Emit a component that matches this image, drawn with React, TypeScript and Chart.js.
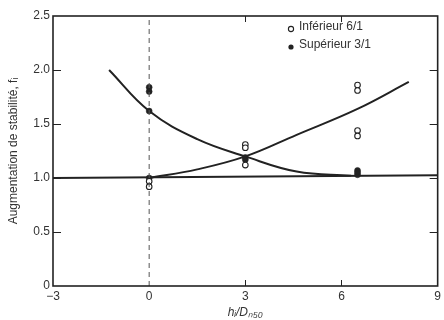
import React, { useEffect, useRef } from "react";
import { Chart, registerables } from "chart.js";

Chart.register(...registerables);

// Data
const xTicks = [-3, 0, 3, 6, 9];
const yTicks = [0, 0.5, 1.0, 1.5, 2.0, 2.5];

const inferieurX = [0, 0, 3, 3, 3, 6.5, 6.5, 6.5, 6.5];
const inferieurY = [0.97, 0.92, 1.31, 1.28, 1.12, 1.86, 1.81, 1.44, 1.39];

const superieurX = [0, 0, 0, 0, 3, 3, 6.5, 6.5, 6.5];
const superieurY = [1.84, 1.8, 1.62, 1.0, 1.19, 1.17, 1.07, 1.05, 1.03];

const baseX = [-3, 9];
const baseY = [1.0, 1.025];

const decX = [-1.25, 0, 1.5, 3, 4.6, 6.3];
const decY = [2.0, 1.62, 1.36, 1.2, 1.06, 1.022];

const incX = [0, 1.5, 3, 4.6, 6.5, 8.1];
const incY = [1.0, 1.08, 1.2, 1.4, 1.64, 1.89];

const refLineX = [0, 0];
const refLineY = [0, 2.5];

const labels = ["Inférieur 6/1", "Supérieur 3/1"];

const zip = (xs: number[], ys: number[]) => xs.map((x, i) => ({ x, y: ys[i] }));

const FONT = "'Liberation Sans', Arial, sans-serif";
const INK = "#222";

const innerTicks = {
  id: "innerTicks",
  afterDraw(chart: any) {
    const { ctx, chartArea: a, scales } = chart;
    const x = scales.x, y = scales.y;
    ctx.save();
    ctx.strokeStyle = INK;
    ctx.lineWidth = 1;
    yTicks.slice(1, -1).forEach((v) => {
      const py = Math.round(y.getPixelForValue(v)) + 0.5;
      ctx.beginPath();
      ctx.moveTo(a.left, py);
      ctx.lineTo(a.left + 8, py);
      ctx.moveTo(a.right, py);
      ctx.lineTo(a.right - 8, py);
      ctx.stroke();
    });
    xTicks.slice(1, -1).forEach((v) => {
      if (v === 0) return;
      const px = Math.round(x.getPixelForValue(v)) + 0.5;
      ctx.beginPath();
      ctx.moveTo(px, a.bottom);
      ctx.lineTo(px, a.bottom - 6);
      ctx.moveTo(px, a.top);
      ctx.lineTo(px, a.top + 6);
      ctx.stroke();
    });
    // frame
    ctx.lineWidth = 1.6;
    ctx.strokeRect(a.left, a.top, a.right - a.left, a.bottom - a.top);
    // legend
    const lx = 291;
    const rows = [
      { y: 27, filled: false },
      { y: 45, filled: true },
    ];
    ctx.font = `12px ${FONT}`;
    ctx.textBaseline = "middle";
    ctx.fillStyle = "#333";
    rows.forEach((r, i) => {
      ctx.beginPath();
      ctx.arc(lx, r.y + 2, 2.6, 0, Math.PI * 2);
      if (r.filled) {
        ctx.fillStyle = INK;
        ctx.fill();
      } else {
        ctx.lineWidth = 1.1;
        ctx.strokeStyle = INK;
        ctx.stroke();
      }
      ctx.fillStyle = "#333";
      ctx.fillText(labels[i], lx + 8, r.y);
    });
    ctx.restore();
  },
};

export default function App() {
  const ref = useRef<HTMLCanvasElement>(null);
  useEffect(() => {
    document.body.style.margin = "0";
    const chart = new Chart(ref.current!, {
      type: "scatter",
      data: {
        datasets: [
          {
            type: "line",
            label: "ref",
            data: zip(refLineX, refLineY),
            borderColor: "#555",
            borderWidth: 1,
            borderDash: [5, 4],
            pointRadius: 0,
          },
          {
            type: "line",
            label: "base",
            data: zip(baseX, baseY),
            borderColor: INK,
            borderWidth: 2,
            pointRadius: 0,
          },
          {
            type: "line",
            label: "dec",
            data: zip(decX, decY),
            borderColor: INK,
            borderWidth: 2,
            pointRadius: 0,
            tension: 0.4,
          },
          {
            type: "line",
            label: "inc",
            data: zip(incX, incY),
            borderColor: INK,
            borderWidth: 2,
            pointRadius: 0,
            tension: 0.4,
          },
          {
            label: labels[0],
            data: zip(inferieurX, inferieurY),
            pointStyle: "circle",
            pointRadius: 2.8,
            pointBorderWidth: 1.1,
            pointBackgroundColor: "#fff",
            pointBorderColor: INK,
          },
          {
            label: labels[1],
            data: zip(superieurX, superieurY),
            pointStyle: "circle",
            pointRadius: 3,
            pointBorderWidth: 0.5,
            pointBackgroundColor: INK,
            pointBorderColor: INK,
          },
        ],
      },
      options: {
        animation: false,
        responsive: false,
        layout: { padding: { top: 16, right: 4, left: 0, bottom: 0 } },
        plugins: { legend: { display: false }, tooltip: { enabled: false } },
        scales: {
          x: {
            type: "linear",
            min: -3,
            max: 9,
            afterBuildTicks: (s: any) => {
              s.ticks = xTicks.map((v) => ({ value: v }));
            },
            afterFit: (s: any) => {
              s.height = 34;
            },
            grid: { display: false, drawTicks: false },
            border: { display: false },
            ticks: {
              color: "#333",
              font: { family: FONT, size: 12 },
              padding: 3,
              callback: (v: any) => (v < 0 ? "\u2212" + Math.abs(v) : String(v)),
            },
            title: {
              display: true,
              text: "h\u1D62/D\u2099\u2085\u2080",
              color: "#333",
              font: { family: FONT, size: 12, style: "italic" },
              padding: { top: 0, bottom: 0 },
            },
          },
          y: {
            type: "linear",
            min: 0,
            max: 2.5,
            afterBuildTicks: (s: any) => {
              s.ticks = yTicks.map((v) => ({ value: v }));
            },
            afterFit: (s: any) => {
              s.width = 53;
            },
            grid: { display: false, drawTicks: false },
            border: { display: false },
            ticks: {
              color: "#333",
              font: { family: FONT, size: 12 },
              padding: 3,
              callback: (v: any) => (v === 0 ? "0" : Number(v).toFixed(1)),
            },
            title: {
              display: true,
              text: "Augmentation de stabilité, f\u1D62",
              color: "#333",
              font: { family: FONT, size: 12 },
              padding: { top: 6, bottom: 0 },
            },
          },
        },
      },
      plugins: [innerTicks],
    } as any);
    return () => chart.destroy();
  }, []);
  return <canvas ref={ref} width={444} height={320} style={{ display: "block" }} />;
}
